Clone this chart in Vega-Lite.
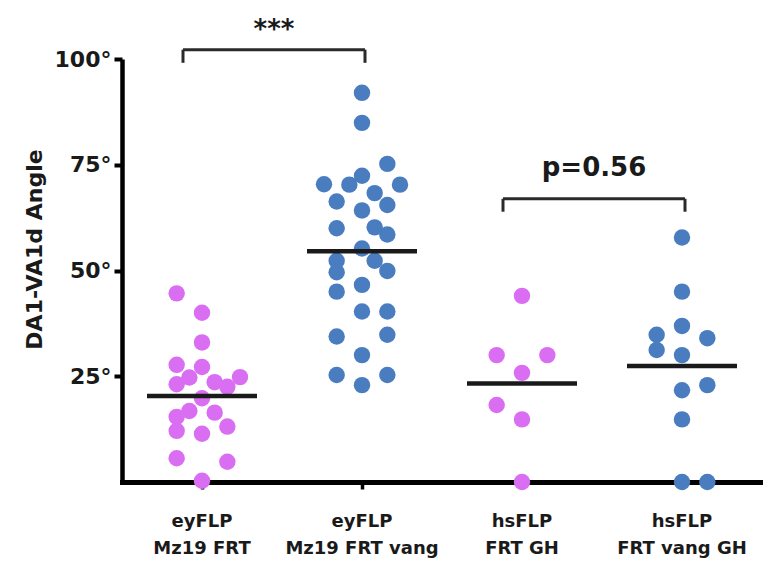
{
  "$schema": "https://vega.github.io/schema/vega-lite/v6.json",
  "width": 640,
  "height": 423,
  "autosize": {"type": "none"},
  "padding": {"left": 122, "top": 59, "right": 1, "bottom": 80},
  "background": "white",
  "config": {"view": {"stroke": null}, "font": "DejaVu Sans"},
  "datasets": {
    "points": [
      {"group": "eyFLP Mz19 FRT", "genotype": "control", "slot": -2, "angle": 44.6},
      {"group": "eyFLP Mz19 FRT", "genotype": "control", "slot": 0, "angle": 40.0},
      {"group": "eyFLP Mz19 FRT", "genotype": "control", "slot": 0, "angle": 33.0},
      {"group": "eyFLP Mz19 FRT", "genotype": "control", "slot": -2, "angle": 27.7},
      {"group": "eyFLP Mz19 FRT", "genotype": "control", "slot": 0, "angle": 27.2},
      {"group": "eyFLP Mz19 FRT", "genotype": "control", "slot": -1, "angle": 24.7},
      {"group": "eyFLP Mz19 FRT", "genotype": "control", "slot": -2, "angle": 23.1},
      {"group": "eyFLP Mz19 FRT", "genotype": "control", "slot": 1, "angle": 23.6},
      {"group": "eyFLP Mz19 FRT", "genotype": "control", "slot": 2, "angle": 22.5},
      {"group": "eyFLP Mz19 FRT", "genotype": "control", "slot": 3, "angle": 24.8},
      {"group": "eyFLP Mz19 FRT", "genotype": "control", "slot": 0, "angle": 19.8},
      {"group": "eyFLP Mz19 FRT", "genotype": "control", "slot": -1, "angle": 16.8},
      {"group": "eyFLP Mz19 FRT", "genotype": "control", "slot": -2, "angle": 15.4},
      {"group": "eyFLP Mz19 FRT", "genotype": "control", "slot": 1, "angle": 16.4},
      {"group": "eyFLP Mz19 FRT", "genotype": "control", "slot": 2, "angle": 13.1},
      {"group": "eyFLP Mz19 FRT", "genotype": "control", "slot": -2, "angle": 12.1},
      {"group": "eyFLP Mz19 FRT", "genotype": "control", "slot": 0, "angle": 11.4},
      {"group": "eyFLP Mz19 FRT", "genotype": "control", "slot": -2, "angle": 5.6},
      {"group": "eyFLP Mz19 FRT", "genotype": "control", "slot": 2, "angle": 4.8},
      {"group": "eyFLP Mz19 FRT", "genotype": "control", "slot": 0, "angle": 0.3},

      {"group": "eyFLP Mz19 FRT vang", "genotype": "vang", "slot": 0, "angle": 92.0},
      {"group": "eyFLP Mz19 FRT vang", "genotype": "vang", "slot": 0, "angle": 84.9},
      {"group": "eyFLP Mz19 FRT vang", "genotype": "vang", "slot": 2, "angle": 75.2},
      {"group": "eyFLP Mz19 FRT vang", "genotype": "vang", "slot": 0, "angle": 72.4},
      {"group": "eyFLP Mz19 FRT vang", "genotype": "vang", "slot": -1, "angle": 70.3},
      {"group": "eyFLP Mz19 FRT vang", "genotype": "vang", "slot": -3, "angle": 70.4},
      {"group": "eyFLP Mz19 FRT vang", "genotype": "vang", "slot": 3, "angle": 70.3},
      {"group": "eyFLP Mz19 FRT vang", "genotype": "vang", "slot": 1, "angle": 68.3},
      {"group": "eyFLP Mz19 FRT vang", "genotype": "vang", "slot": -2, "angle": 66.3},
      {"group": "eyFLP Mz19 FRT vang", "genotype": "vang", "slot": 2, "angle": 65.5},
      {"group": "eyFLP Mz19 FRT vang", "genotype": "vang", "slot": 0, "angle": 64.2},
      {"group": "eyFLP Mz19 FRT vang", "genotype": "vang", "slot": -2, "angle": 60.0},
      {"group": "eyFLP Mz19 FRT vang", "genotype": "vang", "slot": 1, "angle": 60.2},
      {"group": "eyFLP Mz19 FRT vang", "genotype": "vang", "slot": 2, "angle": 58.5},
      {"group": "eyFLP Mz19 FRT vang", "genotype": "vang", "slot": 0, "angle": 55.2},
      {"group": "eyFLP Mz19 FRT vang", "genotype": "vang", "slot": -2, "angle": 52.3},
      {"group": "eyFLP Mz19 FRT vang", "genotype": "vang", "slot": -2, "angle": 49.6},
      {"group": "eyFLP Mz19 FRT vang", "genotype": "vang", "slot": 1, "angle": 52.3},
      {"group": "eyFLP Mz19 FRT vang", "genotype": "vang", "slot": 2, "angle": 49.9},
      {"group": "eyFLP Mz19 FRT vang", "genotype": "vang", "slot": -2, "angle": 45.0},
      {"group": "eyFLP Mz19 FRT vang", "genotype": "vang", "slot": 0, "angle": 46.6},
      {"group": "eyFLP Mz19 FRT vang", "genotype": "vang", "slot": 0, "angle": 40.3},
      {"group": "eyFLP Mz19 FRT vang", "genotype": "vang", "slot": 2, "angle": 40.3},
      {"group": "eyFLP Mz19 FRT vang", "genotype": "vang", "slot": -2, "angle": 34.4},
      {"group": "eyFLP Mz19 FRT vang", "genotype": "vang", "slot": 2, "angle": 34.8},
      {"group": "eyFLP Mz19 FRT vang", "genotype": "vang", "slot": 0, "angle": 30.0},
      {"group": "eyFLP Mz19 FRT vang", "genotype": "vang", "slot": -2, "angle": 25.3},
      {"group": "eyFLP Mz19 FRT vang", "genotype": "vang", "slot": 2, "angle": 25.3},
      {"group": "eyFLP Mz19 FRT vang", "genotype": "vang", "slot": 0, "angle": 22.9},

      {"group": "hsFLP FRT GH", "genotype": "control", "slot": 0, "angle": 44.0},
      {"group": "hsFLP FRT GH", "genotype": "control", "slot": -2, "angle": 30.0},
      {"group": "hsFLP FRT GH", "genotype": "control", "slot": 2, "angle": 30.0},
      {"group": "hsFLP FRT GH", "genotype": "control", "slot": 0, "angle": 25.8},
      {"group": "hsFLP FRT GH", "genotype": "control", "slot": -2, "angle": 18.2},
      {"group": "hsFLP FRT GH", "genotype": "control", "slot": 0, "angle": 14.8},
      {"group": "hsFLP FRT GH", "genotype": "control", "slot": 0, "angle": 0.0},

      {"group": "hsFLP FRT vang GH", "genotype": "vang", "slot": 0, "angle": 57.8},
      {"group": "hsFLP FRT vang GH", "genotype": "vang", "slot": 0, "angle": 45.0},
      {"group": "hsFLP FRT vang GH", "genotype": "vang", "slot": 0, "angle": 36.9},
      {"group": "hsFLP FRT vang GH", "genotype": "vang", "slot": -2, "angle": 34.8},
      {"group": "hsFLP FRT vang GH", "genotype": "vang", "slot": 2, "angle": 34.0},
      {"group": "hsFLP FRT vang GH", "genotype": "vang", "slot": -2, "angle": 31.2},
      {"group": "hsFLP FRT vang GH", "genotype": "vang", "slot": 0, "angle": 30.0},
      {"group": "hsFLP FRT vang GH", "genotype": "vang", "slot": 2, "angle": 22.9},
      {"group": "hsFLP FRT vang GH", "genotype": "vang", "slot": 0, "angle": 21.7},
      {"group": "hsFLP FRT vang GH", "genotype": "vang", "slot": 0, "angle": 14.8},
      {"group": "hsFLP FRT vang GH", "genotype": "vang", "slot": 0, "angle": 0.0},
      {"group": "hsFLP FRT vang GH", "genotype": "vang", "slot": 2, "angle": 0.0}
    ],
    "brackets": [
      {"from": "eyFLP Mz19 FRT", "to": "eyFLP Mz19 FRT vang", "top": 102.2, "bottom": 99.1, "labelY": 106.9, "label": "***"},
      {"from": "hsFLP FRT GH", "to": "hsFLP FRT vang GH", "top": 66.95, "bottom": 63.9, "labelY": 74.3, "label": "p=0.56"}
    ]
  },
  "layer": [
    {
      "data": {"name": "points"},
      "mark": {"type": "circle", "size": 270, "opacity": 1},
      "encoding": {
        "x": {
          "field": "group", "type": "nominal", "title": null,
          "sort": ["eyFLP Mz19 FRT", "eyFLP Mz19 FRT vang", "hsFLP FRT GH", "hsFLP FRT vang GH"],
          "scale": {"domain": ["eyFLP Mz19 FRT", "eyFLP Mz19 FRT vang", "hsFLP FRT GH", "hsFLP FRT vang GH"], "paddingInner": 0, "paddingOuter": 0},
          "axis": {
            "labelAngle": 0,
            "labelExpr": "[substring(datum.value, 0, indexof(datum.value, ' ')), substring(datum.value, indexof(datum.value, ' ') + 1)]",
            "labelFont": "DejaVu Sans", "labelFontSize": 18, "labelFontWeight": "bold", "labelColor": "#1a1a1a",
            "labelLineHeight": 27, "labelPadding": 23, "labelBaseline": "top",
            "domainColor": "#000000", "domainWidth": 5, "domainCap": "square",
            "tickColor": "#000000", "tickWidth": 3.5, "tickSize": 7,
            "grid": false
          }
        },
        "xOffset": {"field": "slot", "type": "quantitative", "scale": {"domain": [-3, 3], "range": [42, 118]}},
        "y": {
          "field": "angle", "type": "quantitative", "title": "DA1-VA1d Angle",
          "scale": {"domain": [0, 100], "nice": false},
          "axis": {
            "values": [25, 50, 75, 100],
            "labelExpr": "datum.value + '°'",
            "labelFont": "DejaVu Sans", "labelFontSize": 22, "labelFontWeight": "bold", "labelColor": "#1a1a1a",
            "labelPadding": 3,
            "domainColor": "#000000", "domainWidth": 4.5,
            "tickColor": "#000000", "tickWidth": 4, "tickSize": 8,
            "titleFont": "DejaVu Sans", "titleFontSize": 22, "titleFontWeight": "bold", "titleColor": "#1a1a1a",
            "titleBaseline": "middle", "titleX": -88, "titleY": 190,
            "grid": false
          }
        },
        "color": {
          "field": "genotype", "type": "nominal",
          "scale": {"domain": ["control", "vang"], "range": ["#d96ef2", "#4a7dc0"]},
          "legend": null
        }
      }
    },
    {
      "data": {"name": "points"},
      "mark": {"type": "tick", "size": 110, "thickness": 4.5, "color": "#1a1a1a", "opacity": 1},
      "encoding": {
        "x": {"field": "group", "type": "nominal", "title": null},
        "y": {"aggregate": "mean", "field": "angle", "type": "quantitative", "title": "DA1-VA1d Angle"}
      }
    },
    {
      "data": {"name": "brackets"},
      "mark": {"type": "rule", "strokeWidth": 3, "color": "#2a2a2a", "xOffset": -19, "x2Offset": 3},
      "encoding": {
        "x": {"field": "from", "type": "nominal", "title": null},
        "x2": {"field": "to"},
        "y": {"field": "top", "type": "quantitative", "title": "DA1-VA1d Angle"}
      }
    },
    {
      "data": {"name": "brackets"},
      "mark": {"type": "rule", "strokeWidth": 3, "color": "#2a2a2a", "xOffset": -19},
      "encoding": {
        "x": {"field": "from", "type": "nominal", "title": null},
        "y": {"field": "top", "type": "quantitative", "title": "DA1-VA1d Angle"},
        "y2": {"field": "bottom"}
      }
    },
    {
      "data": {"name": "brackets"},
      "mark": {"type": "rule", "strokeWidth": 3, "color": "#2a2a2a", "xOffset": 3},
      "encoding": {
        "x": {"field": "to", "type": "nominal", "title": null},
        "y": {"field": "top", "type": "quantitative", "title": "DA1-VA1d Angle"},
        "y2": {"field": "bottom"}
      }
    },
    {
      "data": {"name": "brackets"},
      "mark": {"type": "text", "font": "DejaVu Sans", "fontWeight": "bold", "fontSize": 26, "color": "#1a1a1a", "xOffset": 72, "baseline": "middle", "align": "center"},
      "encoding": {
        "x": {"field": "from", "type": "nominal", "title": null},
        "y": {"field": "labelY", "type": "quantitative", "title": "DA1-VA1d Angle"},
        "text": {"field": "label"}
      }
    }
  ]
}
